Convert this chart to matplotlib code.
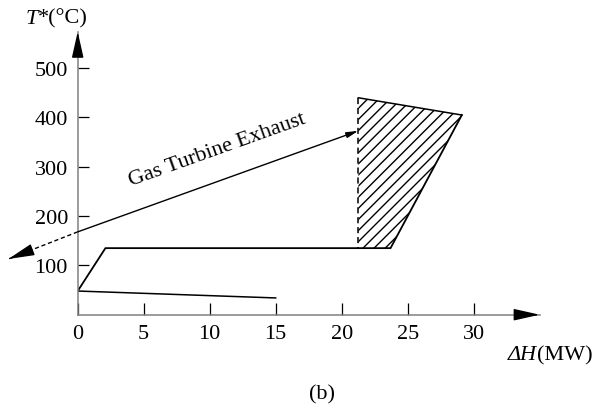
import matplotlib
matplotlib.use("Agg")
import matplotlib.pyplot as plt

plt.rcParams['font.family'] = ['Liberation Serif', 'DejaVu Serif']
plt.rcParams['hatch.linewidth'] = 1.0

# dados
x_ticks = [0, 5, 10, 15, 20, 25, 30]
y_ticks = [100, 200, 300, 400, 500]

cold_dh = [0, 15]
cold_T = [48, 34]

comp_dh = [0, 2.1, 23.7, 29.1]
comp_T = [48, 135, 135, 405]

top_dh = [21.26, 29.1]
top_T = [440, 405]

vert_dh = [21.26, 21.26]
vert_T = [440, 135]

hatch_dh = [21.26, 23.7, 29.1, 21.26]
hatch_T = [135, 135, 405, 440]

gas_start = (0, 168)
gas_end = (21.26, 373)
gas_tail = (-5.25, 113)

fs = 16

fig = plt.figure(figsize=(5.97, 4.06), dpi=100)
ax = fig.add_axes([77.7 / 597, 90.3 / 406, 462 / 597, 283 / 406])
ax.set_xlim(0, 35)
ax.set_ylim(0, 574)

for s in ['top', 'right']:
    ax.spines[s].set_visible(False)
for s in ['left', 'bottom']:
    ax.spines[s].set_color('#808080')
    ax.spines[s].set_linewidth(1.1)

ax.set_xticks(x_ticks)
ax.set_yticks(y_ticks)
ax.tick_params(axis='x', direction='in', length=9, width=0.9, pad=6.5, labelsize=fs, color='black')
ax.tick_params(axis='y', direction='in', length=7.7, width=0.9, pad=7, labelsize=fs, color='black')

# setas dos eixos
head = '-|>,head_length=0.8,head_width=0.18'
ax.annotate('', xy=(0, 1), xytext=(0, 0.94), xycoords='axes fraction',
            arrowprops=dict(arrowstyle=head, color='black', lw=1, mutation_scale=20,
                            shrinkA=0, shrinkB=0))
ax.annotate('', xy=(1, 0), xytext=(0.96, 0), xycoords='axes fraction',
            arrowprops=dict(arrowstyle=head, color='black', lw=1, mutation_scale=20,
                            shrinkA=0, shrinkB=0))

lw = 1.1
ax.plot(cold_dh, cold_T, color='black', lw=lw)
ax.plot(comp_dh, comp_T, color='black', lw=1.3)
ax.plot(top_dh, top_T, color='black', lw=lw)
ax.plot(vert_dh, vert_T, color='black', lw=lw, linestyle=(0, (4, 2.5)))
ax.fill(hatch_dh, hatch_T, facecolor='none', edgecolor='black', hatch='///', linewidth=0)

# linha do gás de exaustão
ax.annotate('', xy=gas_end, xytext=gas_start,
            arrowprops=dict(arrowstyle='-|>,head_length=0.5,head_width=0.12', color='black',
                            lw=1, mutation_scale=14, shrinkA=0, shrinkB=0))
ax.plot([gas_start[0], gas_tail[0]], [gas_start[1], gas_tail[1]], color='black', lw=1,
        linestyle=(0, (3, 2)), clip_on=False)
ax.annotate('', xy=gas_tail, xytext=(-3.6, 130), annotation_clip=False,
            arrowprops=dict(arrowstyle=head, color='black', lw=1, mutation_scale=20,
                            shrinkA=0, shrinkB=0))
ax.text(10.55, 336, 'Gas Turbine Exhaust', fontsize=fs, rotation=19.7,
        rotation_mode='anchor', ha='center', va='center')

# rótulos
fig.text(38 / 597, 1 - 19 / 406, 'T', fontsize=fs, style='italic', ha='right', va='center')
fig.text(38 / 597, 1 - 19 / 406, '*(°C)', fontsize=fs, ha='left', va='center')
fig.text(537 / 597, 1 - 356 / 406, 'ΔH', fontsize=fs, style='italic', ha='right', va='center')
fig.text(537 / 597, 1 - 356 / 406, '(MW)', fontsize=fs, ha='left', va='center')
fig.text(322 / 597, 1 - 395 / 406, '(b)', fontsize=fs, ha='center', va='center')

fig.savefig('out.png', dpi=100)
